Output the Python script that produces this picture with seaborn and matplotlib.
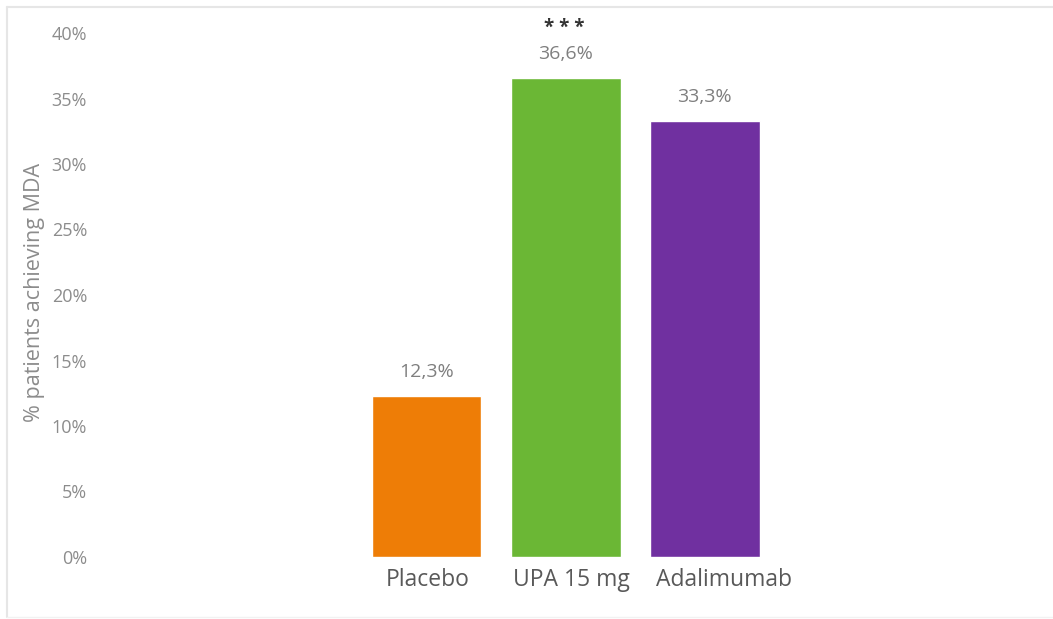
import matplotlib
matplotlib.use("Agg")
import matplotlib.pyplot as plt
from matplotlib.lines import Line2D
from matplotlib.ticker import FuncFormatter
from matplotlib.transforms import ScaledTranslation
import seaborn as sns
import pandas as pd

# Data
treatments = ["Placebo", "UPA 15 mg", "Adalimumab"]
mda_rates = [12.3, 36.6, 33.3]
significance = ["", "* * *", ""]
bar_colors = ["#EE7D06", "#6BB735", "#7030A0"]

sns.set_theme(style="white")
plt.rcParams["font.family"] = ["Open Sans", "DejaVu Sans"]

W, H = 1053, 619
fig = plt.figure(figsize=(W / 100, H / 100), dpi=100)
ax = fig.add_axes([94 / W, (H - 557) / H, (1040 - 94) / W, (557 - 33) / H])

df = pd.DataFrame({"treatment": treatments, "rate": mda_rates})
sns.barplot(data=df, x="treatment", y="rate", hue="treatment",
            palette=bar_colors, width=0.79, saturation=1, legend=False, ax=ax)

ax.set_xlim(-2.39, 4.41)
ax.set_ylim(0, 40)
ax.set_yticks(range(0, 41, 5))
ax.yaxis.set_major_formatter(FuncFormatter(lambda v, _: f"{int(v)}%"))
ax.tick_params(axis="y", labelsize=13, labelcolor="#8C8C8C", length=0, pad=5)
ax.tick_params(axis="x", labelsize=16.5, labelcolor="#595959", length=0, pad=8)
ax.set_xlabel("")
ax.set_ylabel("% patients achieving MDA", fontsize=15.5, color="#8C8C8C")
ax.yaxis.set_label_coords(-0.052, 0.505)
for s in ax.spines.values():
    s.set_visible(False)
ax.grid(False)

# Category labels drift slightly right of their bars
label_shift_px = [1, 6, 19]
for lbl, dx in zip(ax.get_xticklabels(), label_shift_px):
    lbl.set_transform(lbl.get_transform() + ScaledTranslation(dx / 100, 0, fig.dpi_scale_trans))

# Value labels with decimal comma, significance marks above
for i, (v, sig) in enumerate(zip(mda_rates, significance)):
    ax.annotate(f"{v:.1f}".replace(".", ",") + "%", (i, v), xytext=(0, 17),
                textcoords="offset points", ha="center", va="center",
                fontsize=14, color="#7F7F7F")
    if sig:
        ax.annotate(sig, (i, v), xytext=(-1, 36), textcoords="offset points",
                    ha="center", va="center", fontsize=13.5, color="#333333",
                    fontweight="bold")

# Light frame around the chart area
frame_color = "#E6E6E6"
fig.add_artist(Line2D([7 / W, 1], [1 - 7 / H, 1 - 7 / H], color=frame_color, lw=1.5))
fig.add_artist(Line2D([7 / W, 7 / W], [2 / H, 1 - 7 / H], color=frame_color, lw=1.5))
fig.add_artist(Line2D([7 / W, 1], [2 / H, 2 / H], color="#F2F2F2", lw=1))

fig.savefig("out.png", dpi=100)
